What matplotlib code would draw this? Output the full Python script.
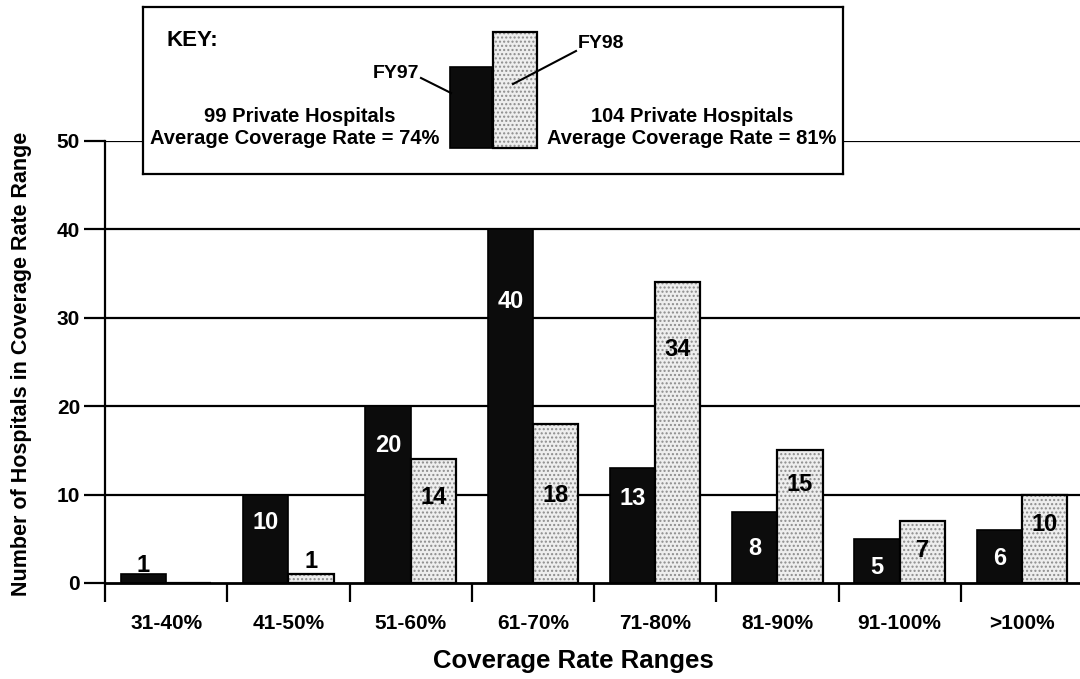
import matplotlib
matplotlib.use("Agg")
import matplotlib.pyplot as plt
from matplotlib.patches import Rectangle
import numpy as np

# ---------------- data ----------------
categories = ["31-40%", "41-50%", "51-60%", "61-70%", "71-80%", "81-90%", "91-100%", ">100%"]
fy97 = [1, 10, 20, 40, 13, 8, 5, 6]
fy98 = [0, 1, 14, 18, 34, 15, 7, 10]
series_names = ["FY97", "FY98"]
key_left_lines = ["99 Private Hospitals", "Average Coverage Rate = 74%"]
key_right_lines = ["104 Private Hospitals", "Average Coverage Rate = 81%"]
key_bar_heights = [0.70, 1.0]  # relative heights of the two key bars
yticks = [0, 10, 20, 30, 40, 50]

# label placement (data units, centre of text)
fy97_label_y = [2.0, 6.9, 15.6, 31.8, 9.6, 3.9, 1.7, 2.8]
fy98_label_y = [None, 2.4, 9.7, 9.9, 26.4, 11.1, 3.7, 6.6]

plt.rcParams['font.family'] = ['Liberation Sans', 'DejaVu Sans']
NARROW = ['Liberation Sans Narrow', 'Liberation Sans', 'DejaVu Sans']

W, H = 1080, 679
fig = plt.figure(figsize=(W / 100, H / 100), dpi=100)
fig.patch.set_facecolor('white')

# main axes: x from 105 px to 1083 px, y from 583 px (0) to 141 px (50)
x0, x1 = 105, 1083
y0, y1 = 583, 141
ax = fig.add_axes([x0 / W, (H - y0) / H, (x1 - x0) / W, (y0 - y1) / H])
ax.set_xlim(-0.5, 7.5)
ax.set_ylim(0, 50)

x = np.arange(len(categories))
bw = 0.37
dark = '#0c0c0c'
light = '#eeeeee'

# gridlines
for yv in yticks[1:]:
    ax.axhline(yv, color='black', lw=1.6, zorder=1)

# FY97 bars
ax.bar(x - bw / 2, fy97, bw, color=dark, edgecolor='black', lw=1.2, zorder=3)
# FY98 bars: stipple layer + outline
ax.bar(x + bw / 2, fy98, bw, color=light, edgecolor='#8c8c8c', lw=0, hatch='....', zorder=3)
ax.bar(x + bw / 2, fy98, bw, color='none', edgecolor='black', lw=1.6, zorder=4)

# value labels
for i in range(len(categories)):
    v = fy97[i]
    if v > 0:
        ly = fy97_label_y[i]
        col = 'white' if ly < v else 'black'
        ax.text(x[i] - bw / 2, ly, str(v), ha='center', va='center', color=col,
                fontsize=17, fontweight='bold', zorder=6)
    v = fy98[i]
    if v > 0 and fy98_label_y[i] is not None:
        ax.text(x[i] + bw / 2, fy98_label_y[i], str(v), ha='center', va='center', color='black',
                fontsize=17, fontweight='bold', zorder=6)

# spines
for s in ['top', 'right']:
    ax.spines[s].set_visible(False)
ax.spines['left'].set_linewidth(1.6)
ax.spines['bottom'].set_linewidth(2.0)
ax.spines['left'].set_zorder(5)
ax.spines['bottom'].set_zorder(5)

# y ticks
ax.set_yticks(yticks)
ax.set_yticklabels([str(t) for t in yticks], fontsize=15, fontweight='bold')
ax.tick_params(axis='y', direction='out', length=15, width=1.6, pad=3)

# x ticks: labels at centres, tick marks at boundaries
ax.set_xticks(x)
ax.set_xticklabels(categories, fontsize=15, fontweight='bold')
ax.tick_params(axis='x', which='major', length=0, pad=22)
ax.set_xticks(np.arange(-0.5, len(categories) - 0.5, 1.0), minor=True)
ax.tick_params(axis='x', which='minor', direction='out', length=14, width=1.6)

ax.set_xlabel("Coverage Rate Ranges", fontsize=18.5, fontweight='bold')
ax.xaxis.label.set_va('center')
ax.xaxis.set_label_coords((573 - x0) / (x1 - x0), -(661 - y0) / (y0 - y1))
ax.set_ylabel("Number of Hospitals in Coverage Rate Range", fontsize=15.5, fontweight='bold')
ax.yaxis.label.set_va('center')
ax.yaxis.set_label_coords(-(x0 - 22) / (x1 - x0), (y0 - 364) / (y0 - y1))

# ---------------- key box (in figure pixel coordinates) ----------------
bl, bt, br, bb = 143, 7, 843, 174
kax = fig.add_axes([bl / W, (H - bb) / H, (br - bl) / W, (bb - bt) / H])
kax.set_xlim(bl, br)
kax.set_ylim(bb, bt)
kax.set_xticks([])
kax.set_yticks([])
kax.set_facecolor('white')
for s in kax.spines.values():
    s.set_linewidth(1.6)
kax.set_zorder(10)

kax.text(167, 40, "KEY:", ha='left', va='center', fontsize=16, fontweight='bold')

base = 148
full = base - 32
kb1h = key_bar_heights[0] * full
kax.add_patch(Rectangle((450, base - kb1h), 42, kb1h, facecolor=dark, edgecolor='black', lw=1.2))
kb2h = key_bar_heights[1] * full
kax.add_patch(Rectangle((493, base - kb2h), 44, kb2h, facecolor=light, edgecolor='#8c8c8c',
                        lw=0, hatch='....'))
kax.add_patch(Rectangle((493, base - kb2h), 44, kb2h, facecolor='none', edgecolor='black', lw=1.6))

kax.text(419, 73, series_names[0], ha='right', va='center', fontsize=14, fontweight='bold',
         family=NARROW)
kax.plot([421, 451], [78, 93], color='black', lw=1.5)
kax.text(578, 43, series_names[1], ha='left', va='center', fontsize=14, fontweight='bold',
         family=NARROW)
kax.plot([576, 513], [51, 84], color='black', lw=1.5)

ks = 14.5
kax.text(300, 117, key_left_lines[0], ha='center', va='center', fontsize=ks, fontweight='bold',
         family=NARROW)
kax.text(295, 139, key_left_lines[1], ha='center', va='center', fontsize=ks, fontweight='bold',
         family=NARROW)
kax.text(692, 117, key_right_lines[0], ha='center', va='center', fontsize=ks, fontweight='bold',
         family=NARROW)
kax.text(692, 139, key_right_lines[1], ha='center', va='center', fontsize=ks, fontweight='bold',
         family=NARROW)

fig.savefig("out.png", dpi=100)
